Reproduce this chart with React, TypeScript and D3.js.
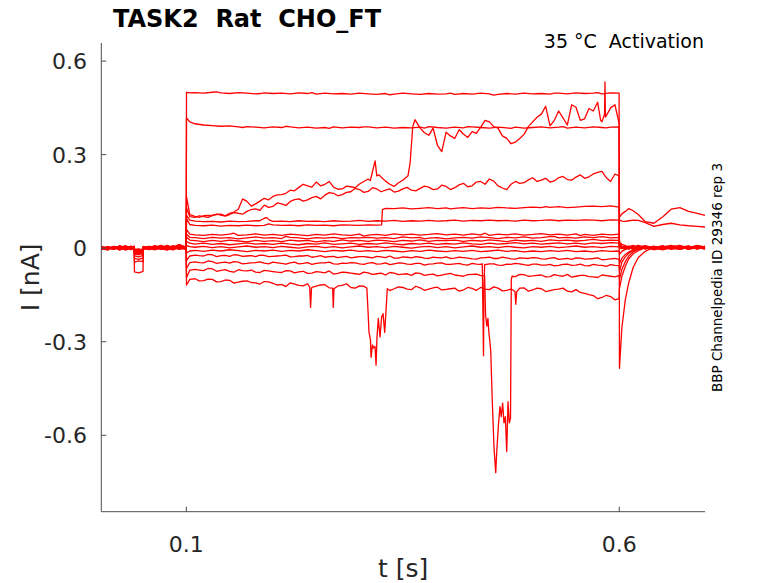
import React from "react";
import * as d3 from "d3";

type Pt = [number, number];
interface Trace {
  pre: number[];
  step: number[];
  post: number[];
  mid?: number[];
  events?: Pt[][];
}

// sample times (s) for the three protocol segments
const preTimes = [0.002, 0.009, 0.016, 0.023, 0.03, 0.036, 0.0398, 0.0401, 0.045, 0.05, 0.0503, 0.057, 0.064, 0.071, 0.078, 0.085, 0.092, 0.0998];
const stepTimes = [
  0.1002, 0.104,
  0.11, 0.12, 0.13, 0.14, 0.15, 0.16, 0.17, 0.18, 0.19, 0.2,
  0.21, 0.22, 0.23, 0.24, 0.25, 0.26, 0.27, 0.28, 0.29, 0.3,
  0.31, 0.32, 0.33, 0.34, 0.35, 0.36, 0.37, 0.38, 0.39, 0.4,
  0.41, 0.42, 0.43, 0.44, 0.45, 0.46, 0.47, 0.48, 0.49, 0.5,
  0.51, 0.52, 0.53, 0.54, 0.55, 0.56, 0.57, 0.58, 0.59,
  0.5998,
];
// extra samples between the step samples, for the noisier traces
const midTimes = [
  0.115, 0.125, 0.135, 0.145, 0.155, 0.165, 0.175, 0.185, 0.195,
  0.205, 0.215, 0.225, 0.235, 0.245, 0.255, 0.265, 0.275, 0.285, 0.295,
  0.305, 0.315, 0.325, 0.335, 0.345, 0.355, 0.365, 0.375, 0.385, 0.395,
  0.405, 0.415, 0.425, 0.435, 0.445, 0.455, 0.465, 0.475, 0.485, 0.495,
  0.505, 0.515, 0.525, 0.535, 0.545, 0.555, 0.565, 0.575, 0.585, 0.595,
];
const postTimes = [0.6002, 0.603, 0.607, 0.611, 0.616, 0.622, 0.63, 0.64, 0.65, 0.66, 0.67, 0.68, 0.69, 0.699];

// currents in nA, one trace per voltage step
const trace01: Trace = {
  pre: [0.003, -0.004, 0.006, -0.002, 0.004, -0.005, 0.002, -0.076, -0.079, -0.074, 0.004, -0.003, 0.007, 0.001, 0.009, -0.002, 0.005, 0.001],
  step: [
    0.5, 0.498,
    0.499, 0.497, 0.5, 0.498, 0.496, 0.499, 0.497, 0.495, 0.498, 0.496,
    0.497, 0.495, 0.498, 0.496, 0.494, 0.497, 0.495, 0.496, 0.494, 0.497,
    0.495, 0.493, 0.496, 0.494, 0.497, 0.495, 0.493, 0.496, 0.494, 0.495,
    0.493, 0.496, 0.494, 0.497, 0.495, 0.493, 0.496, 0.494, 0.497, 0.495,
    0.496, 0.494, 0.497, 0.495, 0.498, 0.496, 0.497, 0.495, 0.498,
    0.497,
  ],
  post: [-0.385, -0.255, -0.165, -0.11, -0.062, -0.03, -0.01, 0.003, -0.004, 0.006, -0.002, 0.005, -0.003, 0.004],
  events: [[[0.135, 0.501]], [[0.185, 0.496]], [[0.245, 0.499]], [[0.335, 0.492]], [[0.405, 0.497]], [[0.455, 0.491]], [[0.525, 0.497]], [[0.575, 0.499]]],
};

const trace02: Trace = {
  pre: [-0.002, 0.005, -0.003, 0.008, 0.001, -0.004, 0.003, -0.045, -0.041, -0.043, 0.002, 0.006, -0.003, 0.004, -0.001, 0.007, 0.002, -0.002],
  step: [
    0.418, 0.405,
    0.399, 0.395, 0.393, 0.391, 0.392, 0.389, 0.39, 0.388, 0.386, 0.389,
    0.387, 0.389, 0.386, 0.388, 0.385, 0.387, 0.389, 0.386, 0.388, 0.387,
    0.389, 0.386, 0.388, 0.385, 0.387, 0.386, 0.388, 0.39, 0.387, 0.385,
    0.388, 0.386, 0.389, 0.387, 0.385, 0.388, 0.386, 0.388, 0.385, 0.387,
    0.389, 0.386, 0.388, 0.385, 0.388, 0.386, 0.389, 0.387, 0.388,
    0.389,
  ],
  post: [0.1, 0.11, 0.118, 0.127, 0.12, 0.108, 0.085, 0.08, 0.1, 0.125, 0.13, 0.118, 0.112, 0.105],
  events: [[[0.165, 0.387]], [[0.215, 0.391]], [[0.265, 0.384]], [[0.305, 0.389]], [[0.375, 0.385]], [[0.425, 0.39]], [[0.475, 0.384]], [[0.535, 0.39]], [[0.585, 0.386]]],
};

const trace03: Trace = {
  pre: [0.004, -0.002, 0.003, -0.006, 0.005, 0.0, -0.003, -0.033, -0.036, -0.031, -0.004, 0.003, -0.002, 0.006, 0.002, -0.005, 0.009, 0.003],
  step: [
    0.165, 0.108,
    0.102, 0.104, 0.106, 0.109, 0.112, 0.125, 0.15, 0.142, 0.16, 0.166,
    0.172, 0.186, 0.195, 0.2, 0.212, 0.205, 0.196, 0.19, 0.197, 0.206,
    0.222, 0.232, 0.215, 0.198, 0.218, 0.33, 0.385, 0.362, 0.33, 0.372,
    0.352, 0.366, 0.374, 0.388, 0.405, 0.385, 0.352, 0.34, 0.365, 0.405,
    0.43, 0.392, 0.44, 0.395, 0.452, 0.415, 0.44, 0.405, 0.45,
    0.4,
  ],
  post: [0.09, 0.087, 0.086, 0.088, 0.09, 0.089, 0.082, 0.07, 0.076, 0.08, 0.075, 0.072, 0.07, 0.068],
  events: [
    [[0.115, 0.099]], [[0.135, 0.108]], [[0.145, 0.104]], [[0.155, 0.116]],
    [[0.165, 0.158]], [[0.175, 0.135]], [[0.185, 0.151]], [[0.195, 0.155]], [[0.205, 0.171]], [[0.215, 0.176]],
    [[0.225, 0.184]], [[0.235, 0.205]], [[0.245, 0.196]], [[0.255, 0.2]], [[0.265, 0.214]], [[0.275, 0.189]],
    [[0.285, 0.199]], [[0.295, 0.194]], [[0.305, 0.214]], [[0.3125, 0.217]], [[0.318, 0.28]], [[0.3225, 0.235]],
    [[0.335, 0.205]], [[0.345, 0.21]],
    [[0.356, 0.232], [0.3585, 0.275], [0.3615, 0.39], [0.364, 0.412]],
    [[0.375, 0.37]], [[0.385, 0.385]], [[0.395, 0.31]], [[0.405, 0.36]], [[0.415, 0.38]], [[0.425, 0.355]],
    [[0.435, 0.368]], [[0.445, 0.41]], [[0.455, 0.39]],
    [[0.465, 0.36]], [[0.475, 0.335]], [[0.485, 0.352]], [[0.495, 0.39]], [[0.505, 0.42]], [[0.515, 0.455]], [[0.525, 0.41]],
    [[0.535, 0.418]], [[0.545, 0.46]], [[0.555, 0.41]], [[0.565, 0.448]], [[0.575, 0.468]], [[0.5785, 0.41]],
    [[0.583, 0.43], [0.5835, 0.533], [0.584, 0.42]], [[0.595, 0.46]],
  ],
};

const trace04: Trace = {
  pre: [-0.003, 0.004, 0.0, 0.005, -0.004, 0.003, 0.006, -0.018, -0.021, -0.016, 0.001, -0.004, 0.005, -0.001, 0.003, 0.008, -0.003, 0.002],
  step: [
    0.13, 0.101,
    0.099, 0.101, 0.104, 0.106, 0.108, 0.112, 0.118, 0.126, 0.138, 0.134,
    0.142, 0.15, 0.158, 0.155, 0.166, 0.17, 0.176, 0.172, 0.181, 0.188,
    0.182, 0.19, 0.186, 0.18, 0.19, 0.186, 0.192, 0.196, 0.19, 0.198,
    0.194, 0.208, 0.2, 0.214, 0.222, 0.2, 0.188, 0.214, 0.21, 0.226,
    0.218, 0.212, 0.226, 0.22, 0.228, 0.224, 0.238, 0.246, 0.214,
    0.232,
  ],
  mid: [
    0.104, 0.099, 0.109, 0.103, 0.114, 0.109, 0.124, 0.121, 0.131,
    0.145, 0.137, 0.156, 0.151, 0.162, 0.158, 0.178, 0.168, 0.179, 0.192,
    0.179, 0.194, 0.181, 0.19, 0.183, 0.195, 0.184, 0.199, 0.188, 0.202,
    0.188, 0.203, 0.197, 0.212, 0.205, 0.215, 0.193, 0.205, 0.208, 0.219,
    0.214, 0.224, 0.216, 0.23, 0.218, 0.235, 0.229, 0.243, 0.226, 0.238,
  ],
  post: [0.02, 0.012, 0.008, 0.004, 0.009, -0.002, 0.006, 0.001, 0.008, -0.003, 0.005, 0.002, 0.009, 0.003],
};

const trace05: Trace = {
  pre: [0.001, -0.005, 0.004, 0.002, -0.003, 0.006, -0.001, -0.012, -0.009, -0.014, 0.003, 0.0, 0.005, -0.004, 0.002, 0.004, 0.012, -0.001],
  step: [
    0.095, 0.076,
    0.073, 0.072, 0.074, 0.071, 0.073, 0.072, 0.074, 0.072, 0.073, 0.075,
    0.073, 0.074, 0.072, 0.075, 0.073, 0.074, 0.072, 0.075, 0.074, 0.073,
    0.075, 0.074, 0.128, 0.127, 0.129, 0.126, 0.128, 0.13, 0.127, 0.129,
    0.128, 0.13, 0.127, 0.129, 0.128, 0.131, 0.129, 0.128, 0.13, 0.132,
    0.13, 0.131, 0.133, 0.13, 0.132, 0.134, 0.135, 0.133, 0.136,
    0.132,
  ],
  post: [0.01, 0.006, 0.003, -0.002, 0.005, 0.0, 0.007, -0.003, 0.004, 0.009, 0.001, 0.006, -0.002, 0.005],
  events: [[[0.195, 0.078]], [[0.3255, 0.075], [0.3265, 0.124]], [[0.405, 0.126]], [[0.515, 0.133]]],
};

const trace06: Trace = {
  pre: [-0.004, 0.002, -0.001, 0.006, 0.003, -0.002, 0.004, -0.025, -0.028, -0.023, -0.002, 0.004, 0.001, 0.008, -0.003, 0.003, 0.0, 0.005],
  step: [
    0.105, 0.09,
    0.087, 0.085, 0.086, 0.084, 0.087, 0.085, 0.086, 0.088, 0.096, 0.086,
    0.087, 0.085, 0.088, 0.086, 0.087, 0.085, 0.088, 0.086, 0.087, 0.089,
    0.086, 0.088, 0.087, 0.089, 0.086, 0.088, 0.087, 0.089, 0.087, 0.088,
    0.09, 0.087, 0.089, 0.088, 0.09, 0.088, 0.089, 0.087, 0.09, 0.088,
    0.089, 0.091, 0.088, 0.09, 0.089, 0.091, 0.09, 0.088, 0.091,
    0.09,
  ],
  post: [0.015, 0.004, -0.002, 0.006, 0.001, 0.008, -0.003, 0.005, 0.0, 0.007, -0.004, 0.003, 0.006, -0.001],
  events: [[[0.185, 0.088]], [[0.193, 0.098]], [[0.196, 0.09]]],
};

const trace07: Trace = {
  pre: [0.006, -0.001, 0.003, -0.004, 0.007, 0.002, -0.002, -0.008, -0.011, -0.006, 0.005, -0.002, 0.004, 0.009, 0.001, -0.003, 0.006, 0.002],
  step: [
    0.06, 0.045,
    0.043, 0.041, 0.044, 0.042, 0.045, 0.041, 0.043, 0.046, 0.042, 0.044,
    0.041, 0.045, 0.043, 0.04, 0.044, 0.042, 0.046, 0.043, 0.041, 0.045,
    0.042, 0.044, 0.041, 0.046, 0.043, 0.045, 0.042, 0.044, 0.047, 0.043,
    0.045, 0.042, 0.046, 0.043, 0.041, 0.045, 0.043, 0.046, 0.042, 0.044,
    0.047, 0.043, 0.045, 0.042, 0.046, 0.044, 0.041, 0.045, 0.043,
    0.045,
  ],
  post: [0.008, 0.003, -0.003, 0.005, 0.001, -0.002, 0.006, 0.002, -0.004, 0.005, 0.009, 0.0, 0.004, -0.002],
  events: [[[0.155, 0.048]], [[0.305, 0.039]], [[0.445, 0.048]], [[0.555, 0.04]]],
};

const trace08: Trace = {
  pre: [0.005, 0.0, -0.004, 0.003, 0.008, -0.001, 0.002, -0.007, -0.005, -0.009, 0.006, 0.001, -0.002, 0.005, -0.003, 0.002, 0.011, 0.004],
  step: [
    0.045, 0.035,
    0.034, 0.031, 0.035, 0.032, 0.034, 0.03, 0.033, 0.036, 0.032, 0.034,
    0.031, 0.035, 0.033, 0.03, 0.034, 0.032, 0.035, 0.031, 0.034, 0.033,
    0.035, 0.032, 0.034, 0.031, 0.036, 0.033, 0.035, 0.032, 0.034, 0.03,
    0.033, 0.035, 0.032, 0.036, 0.034, 0.031, 0.035, 0.033, 0.036, 0.032,
    0.034, 0.037, 0.033, 0.035, 0.032, 0.036, 0.034, 0.037, 0.033,
    0.035,
  ],
  post: [0.002, 0.007, 0.0, -0.003, 0.004, 0.009, 0.001, -0.002, 0.006, 0.0, 0.005, -0.003, 0.008, 0.002],
  events: [[[0.215, 0.038]], [[0.375, 0.03]], [[0.525, 0.038]]],
};

const trace09: Trace = {
  pre: [-0.003, 0.004, 0.001, 0.007, -0.002, 0.003, 0.005, -0.006, -0.004, -0.008, 0.0, 0.006, -0.003, 0.002, 0.008, 0.001, -0.004, 0.003],
  step: [
    0.035, 0.026,
    0.024, 0.021, 0.025, 0.022, 0.026, 0.023, 0.02, 0.025, 0.022, 0.024,
    0.021, 0.026, 0.023, 0.025, 0.02, 0.024, 0.022, 0.027, 0.023, 0.025,
    0.022, 0.026, 0.024, 0.021, 0.025, 0.023, 0.027, 0.022, 0.025, 0.024,
    0.026, 0.022, 0.025, 0.023, 0.027, 0.024, 0.021, 0.026, 0.023, 0.025,
    0.022, 0.027, 0.024, 0.026, 0.023, 0.025, 0.028, 0.024, 0.026,
    0.025,
  ],
  post: [0.004, -0.002, 0.006, 0.001, -0.003, 0.005, 0.0, 0.007, -0.002, 0.003, 0.006, -0.004, 0.002, 0.005],
};

const trace10: Trace = {
  pre: [0.002, -0.006, 0.005, 0.0, 0.004, -0.003, 0.007, -0.003, -0.007, -0.002, -0.005, 0.002, 0.008, -0.002, 0.004, -0.004, 0.003, 0.006],
  step: [
    0.022, 0.016,
    0.013, 0.016, 0.012, 0.015, 0.011, 0.014, 0.017, 0.013, 0.015, 0.012,
    0.016, 0.013, 0.011, 0.015, 0.013, 0.017, 0.012, 0.014, 0.016, 0.012,
    0.015, 0.013, 0.017, 0.014, 0.011, 0.015, 0.013, 0.016, 0.012, 0.015,
    0.013, 0.017, 0.014, 0.012, 0.016, 0.013, 0.015, 0.018, 0.014, 0.016,
    0.013, 0.015, 0.017, 0.014, 0.016, 0.013, 0.017, 0.015, 0.018,
    0.016,
  ],
  post: [-0.002, 0.005, 0.001, 0.007, -0.003, 0.004, 0.008, 0.0, -0.004, 0.006, 0.002, -0.001, 0.007, 0.003],
};

const trace11: Trace = {
  pre: [-0.005, 0.001, -0.002, 0.004, -0.006, 0.0, -0.003, -0.01, -0.013, -0.009, 0.001, -0.005, 0.003, -0.002, -0.006, 0.005, 0.0, -0.003],
  step: [
    0.008, 0.005,
    0.003, 0.006, 0.002, 0.005, 0.001, 0.004, 0.007, 0.003, 0.005, 0.002,
    0.006, 0.003, 0.0, 0.004, 0.006, 0.002, 0.005, 0.001, 0.004, 0.007,
    0.003, 0.005, 0.002, 0.006, 0.003, 0.0, 0.004, 0.006, 0.002, 0.005,
    0.001, 0.004, 0.007, 0.003, 0.005, 0.002, 0.006, 0.003, 0.001, 0.005,
    0.003, 0.006, 0.002, 0.004, 0.007, 0.003, 0.005, 0.002, 0.006,
    0.004,
  ],
  post: [0.006, 0.0, -0.004, 0.003, 0.008, -0.002, 0.004, -0.005, 0.002, 0.006, -0.003, 0.004, 0.0, 0.007],
};

const trace12: Trace = {
  pre: [0.001, -0.003, 0.004, -0.005, 0.002, 0.006, -0.001, -0.004, -0.002, -0.006, 0.004, -0.001, -0.005, 0.003, 0.0, -0.004, 0.007, 0.0],
  step: [
    -0.015, -0.009,
    -0.007, -0.01, -0.006, -0.009, -0.005, -0.008, -0.011, -0.007, -0.009, -0.006,
    -0.01, -0.007, -0.009, -0.005, -0.008, -0.011, -0.007, -0.009, -0.006, -0.01,
    -0.008, -0.011, -0.007, -0.009, -0.012, -0.008, -0.01, -0.006, -0.009, -0.011,
    -0.008, -0.01, -0.007, -0.011, -0.009, -0.006, -0.01, -0.008, -0.012, -0.009,
    -0.011, -0.008, -0.01, -0.007, -0.011, -0.009, -0.012, -0.008, -0.01,
    -0.009,
  ],
  post: [-0.02, -0.01, -0.004, 0.002, -0.003, 0.005, -0.001, 0.003, -0.005, 0.001, 0.004, -0.002, 0.005, -0.001],
};

const trace13: Trace = {
  pre: [0.0, 0.004, -0.004, 0.002, 0.006, -0.003, 0.001, -0.014, -0.017, -0.012, -0.001, 0.005, 0.0, -0.004, 0.006, 0.002, -0.002, 0.004],
  step: [
    -0.04, -0.025,
    -0.022, -0.025, -0.021, -0.024, -0.026, -0.022, -0.025, -0.027, -0.023, -0.026,
    -0.024, -0.028, -0.025, -0.023, -0.027, -0.029, -0.026, -0.028, -0.031, -0.027,
    -0.029, -0.026, -0.03, -0.032, -0.028, -0.031, -0.029, -0.033, -0.03, -0.028,
    -0.032, -0.03, -0.034, -0.031, -0.029, -0.033, -0.031, -0.035, -0.032, -0.03,
    -0.034, -0.032, -0.036, -0.033, -0.031, -0.035, -0.033, -0.037, -0.034,
    -0.036,
  ],
  mid: [
    -0.024, -0.02, -0.027, -0.023, -0.021, -0.026, -0.024, -0.022, -0.027,
    -0.025, -0.022, -0.027, -0.025, -0.029, -0.024, -0.027, -0.03, -0.026, -0.029,
    -0.027, -0.031, -0.028, -0.025, -0.032, -0.029, -0.027, -0.032, -0.029, -0.031,
    -0.033, -0.029, -0.032, -0.035, -0.03, -0.033, -0.029, -0.034, -0.031, -0.033,
    -0.031, -0.035, -0.03, -0.034, -0.036, -0.032, -0.034, -0.031, -0.036, -0.033,
  ],
  post: [-0.05, -0.032, -0.02, -0.012, -0.006, -0.001, 0.004, -0.003, 0.005, 0.001, -0.004, 0.006, 0.002, -0.002],
};

const trace14: Trace = {
  pre: [0.003, -0.002, 0.005, -0.005, 0.001, 0.004, -0.002, -0.02, -0.016, -0.019, 0.004, -0.003, 0.002, 0.007, -0.002, -0.005, 0.004, -0.001],
  step: [
    -0.065, -0.046,
    -0.044, -0.047, -0.043, -0.046, -0.048, -0.045, -0.049, -0.046, -0.048, -0.045,
    -0.049, -0.047, -0.05, -0.046, -0.049, -0.047, -0.05, -0.048, -0.046, -0.05,
    -0.048, -0.051, -0.047, -0.05, -0.048, -0.052, -0.049, -0.051, -0.048, -0.052,
    -0.05, -0.053, -0.049, -0.052, -0.05, -0.054, -0.051, -0.049, -0.053, -0.051,
    -0.054, -0.052, -0.055, -0.051, -0.054, -0.056, -0.052, -0.055, -0.053,
    -0.056,
  ],
  mid: [
    -0.046, -0.041, -0.049, -0.045, -0.043, -0.05, -0.047, -0.044, -0.05,
    -0.047, -0.051, -0.045, -0.049, -0.052, -0.047, -0.045, -0.051, -0.049, -0.047,
    -0.052, -0.046, -0.05, -0.053, -0.047, -0.051, -0.049, -0.054, -0.05, -0.047,
    -0.052, -0.049, -0.054, -0.051, -0.053, -0.05, -0.055, -0.052, -0.05, -0.055,
    -0.051, -0.054, -0.057, -0.052, -0.055, -0.051, -0.057, -0.054, -0.058, -0.055,
  ],
  post: [-0.075, -0.045, -0.028, -0.016, -0.008, -0.002, 0.005, -0.002, 0.004, -0.004, 0.003, 0.007, -0.001, 0.002],
  events: [[[0.4418, -0.05], [0.4425, -0.2], [0.4432, -0.345], [0.4438, -0.12], [0.4445, -0.052]]],
};

const trace15: Trace = {
  pre: [-0.004, 0.003, 0.0, 0.002, -0.005, 0.007, 0.001, -0.011, -0.015, -0.01, 0.0, 0.004, -0.004, 0.001, 0.005, -0.001, 0.008, 0.002],
  step: [
    -0.095, -0.07,
    -0.068, -0.072, -0.066, -0.071, -0.074, -0.069, -0.073, -0.077, -0.071, -0.075,
    -0.078, -0.073, -0.076, -0.081, -0.075, -0.079, -0.083, -0.077, -0.08, -0.084,
    -0.079, -0.082, -0.086, -0.08, -0.083, -0.087, -0.081, -0.085, -0.089, -0.083,
    -0.086, -0.09, -0.084, -0.088, -0.086, -0.09, -0.087, -0.091, -0.085, -0.089,
    -0.086, -0.091, -0.088, -0.084, -0.09, -0.087, -0.092, -0.086, -0.09,
    -0.088,
  ],
  mid: [
    -0.07, -0.065, -0.074, -0.069, -0.077, -0.072, -0.07, -0.078, -0.073,
    -0.077, -0.072, -0.079, -0.074, -0.08, -0.077, -0.073, -0.081, -0.078, -0.082,
    -0.077, -0.084, -0.08, -0.078, -0.085, -0.082, -0.079, -0.087, -0.083, -0.086,
    -0.081, -0.088, -0.085, -0.083, -0.089, -0.086, -0.087, -0.088, -0.084, -0.09,
    -0.087, -0.092, -0.085, -0.09, -0.093, -0.087, -0.091, -0.094, -0.088, -0.092,
  ],
  post: [-0.1, -0.068, -0.043, -0.025, -0.012, -0.004, 0.003, -0.002, 0.006, -0.001, 0.004, -0.003, 0.005, 0.001],
  events: [
    [
      [0.4445, -0.088], [0.4456, -0.215], [0.4471, -0.25], [0.4483, -0.225], [0.4494, -0.27], [0.4515, -0.326],
      [0.4533, -0.487], [0.4553, -0.637], [0.4573, -0.72], [0.4584, -0.657], [0.4603, -0.573], [0.4622, -0.508],
      [0.4637, -0.54], [0.4653, -0.497], [0.4668, -0.56], [0.4684, -0.54], [0.47, -0.652], [0.4715, -0.492],
      [0.473, -0.56], [0.4744, -0.545], [0.4753, -0.1], [0.4762, -0.09],
    ],
  ],
};

const trace16: Trace = {
  pre: [0.002, -0.002, 0.006, -0.003, 0.003, 0.0, -0.004, -0.006, -0.01, -0.005, 0.002, -0.004, 0.006, 0.003, -0.002, 0.006, 0.001, -0.004],
  step: [
    -0.118, -0.1,
    -0.098, -0.104, -0.1, -0.107, -0.103, -0.109, -0.105, -0.111, -0.107, -0.113,
    -0.116, -0.111, -0.119, -0.114, -0.122, -0.117, -0.124, -0.119, -0.126, -0.121,
    -0.125, -0.128, -0.124, -0.13, -0.126, -0.133, -0.127, -0.131, -0.125, -0.132,
    -0.128, -0.134, -0.129, -0.126, -0.133, -0.128, -0.135, -0.13, -0.127, -0.134,
    -0.13, -0.136, -0.131, -0.138, -0.133, -0.145, -0.152, -0.158, -0.155,
    -0.162,
  ],
  mid: [
    -0.105, -0.099, -0.108, -0.102, -0.112, -0.106, -0.11, -0.115, -0.108,
    -0.118, -0.123, -0.115, -0.121, -0.126, -0.118, -0.127, -0.121, -0.114, -0.128,
    -0.122, -0.13, -0.13, -0.136, -0.124, -0.131, -0.122, -0.135, -0.127, -0.134,
    -0.13, -0.138, -0.126, -0.135, -0.131, -0.124, -0.137, -0.131, -0.128, -0.138,
    -0.128, -0.139, -0.133, -0.128, -0.14, -0.142, -0.149, -0.162, -0.151, -0.166,
  ],
  post: [-0.13, -0.09, -0.058, -0.034, -0.018, -0.008, 0.002, -0.004, 0.005, 0.0, -0.003, 0.006, 0.001, -0.002],
  events: [
    [[0.2425, -0.125], [0.2435, -0.19], [0.2445, -0.13]],
    [[0.269, -0.128], [0.2697, -0.19], [0.2705, -0.13]],
    [
      [0.3085, -0.128], [0.3098, -0.2], [0.311, -0.27], [0.3127, -0.295], [0.3133, -0.35], [0.315, -0.31],
      [0.3162, -0.32], [0.3179, -0.315], [0.3191, -0.375], [0.3202, -0.285], [0.3217, -0.225], [0.3237, -0.285],
      [0.3256, -0.22], [0.3272, -0.21], [0.3291, -0.27], [0.3306, -0.2], [0.3321, -0.13],
    ],
    [[0.4795, -0.138], [0.4805, -0.18], [0.4815, -0.14]],
  ],
};

const traces = [
  trace01, trace02, trace03, trace04, trace05, trace06, trace07, trace08,
  trace09, trace10, trace11, trace12, trace13, trace14, trace15, trace16,
];

const xTicks = [0.1, 0.6];
const xTickLabels = ["0.1", "0.6"];
const yTicks = [-0.6, -0.3, 0, 0.3, 0.6];
const yTickLabels = ["-0.6", "-0.3", "0", "0.3", "0.6"];

const W = 778;
const H = 583;
const font = "DejaVu Sans, sans-serif";
const ink = "#262626";

function tracePoints(tr: Trace): Pt[] {
  const pts: Pt[] = [];
  const add = (ts: number[], vs: number[] | undefined) =>
    ts.forEach((t, i) => {
      if (vs && vs[i] !== undefined) pts.push([t, vs[i]]);
    });
  add(preTimes, tr.pre);
  add(stepTimes, tr.step);
  add(midTimes, tr.mid);
  add(postTimes, tr.post);
  let out = pts;
  for (const ev of tr.events ?? []) {
    const t0 = ev[0][0];
    const t1 = ev[ev.length - 1][0];
    out = out.filter((p) => !(p[0] > t0 && p[0] < t1)).concat(ev);
  }
  return out.sort((a, b) => a[0] - b[0]);
}

export default function App() {
  const x = d3.scaleLinear().domain([0.0018, 0.699]).range([101.3, 705]);
  const y = d3.scaleLinear().domain([-0.845, 0.658]).range([511.7, 43]);
  const line = d3
    .line<Pt>()
    .x((d) => x(d[0]))
    .y((d) => y(d[1]));

  const [x0, x1] = x.range();
  const [y0, y1] = y.range();

  return (
    <svg
      width={W}
      height={H}
      style={{ position: "absolute", left: 0, top: 0, background: "#fff" }}
      fontFamily={font}
    >
      <rect width={W} height={H} fill="#fff" />

      {/* traces */}
      <g fill="none" stroke="#ff0000" strokeWidth={1.3} strokeLinejoin="round">
        {traces.map((tr, i) => (
          <path key={i} d={line(tracePoints(tr)) || ""} />
        ))}
      </g>

      {/* axes */}
      <g stroke="#4d4d4d" strokeWidth={1} fill="none">
        <line x1={x0} y1={y1} x2={x0} y2={y0} />
        <line x1={x0} y1={y0} x2={x1} y2={y0} />
        {yTicks.map((v) => (
          <line key={v} x1={x0} x2={x0 + 5} y1={y(v)} y2={y(v)} />
        ))}
        {xTicks.map((v) => (
          <line key={v} x1={x(v)} x2={x(v)} y1={y0} y2={y0 - 5} />
        ))}
      </g>

      {/* tick labels */}
      <g fill={ink} fontSize={22}>
        {yTicks.map((v, i) => (
          <text key={v} x={87} y={y(v) + 8} textAnchor="end">
            {yTickLabels[i]}
          </text>
        ))}
        {xTicks.map((v, i) => (
          <text key={v} x={x(v)} y={552} textAnchor="middle">
            {xTickLabels[i]}
          </text>
        ))}
      </g>

      {/* axis labels */}
      <text x={(x0 + x1) / 2} y={577} textAnchor="middle" fontSize={25} fill={ink}>
        t [s]
      </text>
      <text
        transform={`translate(39, ${(y0 + y1) / 2}) rotate(-90)`}
        textAnchor="middle"
        fontSize={25}
        fill={ink}
      >
        I [nA]
      </text>

      {/* titles */}
      <text x={113} y={27} fontSize={24} fontWeight="bold" fill="#000" style={{ whiteSpace: "pre" }}>
        {"TASK2  Rat  CHO_FT"}
      </text>
      <text x={704} y={48} fontSize={19} textAnchor="end" fill="#000" style={{ whiteSpace: "pre" }}>
        {"35 °C  Activation"}
      </text>
      <text
        transform="translate(722, 277.5) rotate(-90)"
        textAnchor="middle"
        fontSize={13.5}
        fill="#000"
      >
        BBP Channelpedia ID 29346 rep 3
      </text>
    </svg>
  );
}
